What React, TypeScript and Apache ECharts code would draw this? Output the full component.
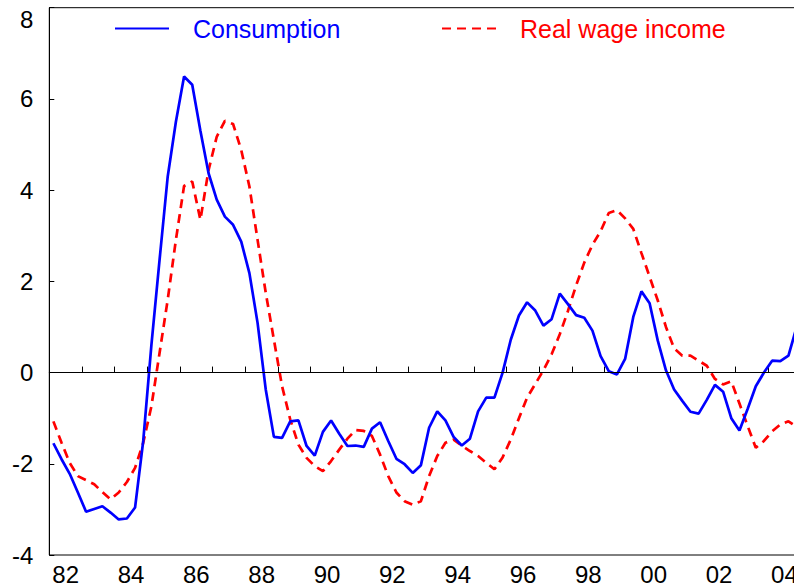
import React, { useEffect, useRef } from "react";
import * as echarts from "echarts";

const yearLabels = ["82","83","84","85","86","87","88","89","90","91","92","93","94","95","96","97","98","99","00","01","02","03","04"];
const firstYear = 1982;

const consumption = [
  -1.55, -1.90, -2.22, -2.63, -3.05, -2.99, -2.93, -3.07, -3.22, -3.20,
  -2.96, -1.50, 0.60, 2.47, 4.30, 5.50, 6.49, 6.31, 5.30, 4.37,
  3.79, 3.42, 3.24, 2.87, 2.18, 1.09, -0.37, -1.41, -1.43, -1.07,
  -1.05, -1.61, -1.82, -1.30, -1.05, -1.34, -1.61, -1.60, -1.63, -1.23,
  -1.09, -1.50, -1.89, -2.01, -2.20, -2.03, -1.21, -0.85, -1.05, -1.41,
  -1.60, -1.45, -0.85, -0.55, -0.55, 0.00, 0.72, 1.25, 1.54, 1.36,
  1.03, 1.17, 1.73, 1.50, 1.26, 1.20, 0.92, 0.36, 0.03, -0.04,
  0.30, 1.22, 1.78, 1.52, 0.70, 0.05, -0.37, -0.62, -0.86, -0.90,
  -0.60, -0.27, -0.42, -1.00, -1.27, -0.80, -0.30, 0.00, 0.26, 0.25,
  0.37, 1.00
];

const realWageIncome = [
  -1.07, -1.54, -1.98, -2.27, -2.36, -2.45, -2.62, -2.78, -2.63, -2.40,
  -2.09, -1.54, -0.74, 0.43, 1.60, 2.91, 4.09, 4.19, 3.35, 4.44,
  5.17, 5.52, 5.45, 4.88, 4.08, 2.91, 1.75, 0.72, -0.30, -1.03,
  -1.58, -1.87, -2.05, -2.16, -1.94, -1.69, -1.45, -1.26, -1.28, -1.39,
  -1.80, -2.27, -2.63, -2.82, -2.90, -2.82, -2.27, -1.83, -1.54, -1.47,
  -1.60, -1.72, -1.83, -1.98, -2.12, -1.86, -1.47, -1.00, -0.55, -0.25,
  0.05, 0.40, 0.84, 1.35, 1.91, 2.41, 2.80, 3.10, 3.50, 3.56,
  3.38, 3.15, 2.62, 2.10, 1.58, 1.00, 0.53, 0.37, 0.37, 0.26,
  0.15, -0.14, -0.26, -0.19, -0.68, -1.17, -1.65, -1.50, -1.29, -1.14,
  -1.07, -1.19
];

const FONT = "'Liberation Sans', Arial, Helvetica, sans-serif";

const toPoints = (vals: number[]) =>
  vals.map((v, i) => [firstYear + 0.125 + i * 0.25, v]);

export default function App() {
  const ref = useRef<HTMLDivElement>(null);
  useEffect(() => {
    if (!ref.current) return;
    const chart = echarts.init(ref.current, null, { renderer: "svg" });
    const yearWidth = 32.67;
    chart.setOption({
      animation: false,
      backgroundColor: "#fff",
      textStyle: { fontFamily: FONT },
      grid: {
        left: 49.3,
        top: 7.7,
        width: yearWidth * yearLabels.length,
        height: 548,
        show: true,
        borderColor: "#000",
        borderWidth: 1,
        backgroundColor: "transparent",
      },
      legend: {
        left: 114,
        top: 16,
        padding: 0,
        itemWidth: 54,
        itemHeight: 26,
        itemGap: 100.7,
        itemStyle: { opacity: 0 },
        textStyle: { fontSize: 25, fontFamily: FONT, padding: [0, 0, 0, 19] },
        data: [
          { name: "Consumption", textStyle: { color: "#0000ff" } },
          { name: "Real wage income", textStyle: { color: "#ff0000" } },
        ],
      },
      xAxis: [
        {
          type: "category",
          data: yearLabels,
          boundaryGap: true,
          axisLine: { show: true, lineStyle: { color: "#000", width: 1 } },
          axisTick: { show: true, inside: true, length: 6, interval: 0, lineStyle: { color: "#000" } },
          axisLabel: { interval: 1, color: "#000", fontSize: 24, fontFamily: FONT, margin: 7 },
          splitLine: { show: false },
        },
        {
          type: "value",
          min: firstYear,
          max: firstYear + yearLabels.length,
          show: false,
          splitLine: { show: false },
        },
      ],
      yAxis: {
        type: "value",
        min: -4,
        max: 8,
        interval: 2,
        axisLine: { show: true, lineStyle: { color: "#000", width: 1 } },
        axisTick: { show: true, inside: true, length: 5, lineStyle: { color: "#000" } },
        axisLabel: {
          color: "#000",
          fontSize: 24,
          fontFamily: FONT,
          margin: 16,
          verticalAlignMaxLabel: "top",
        },
        splitLine: { show: false },
      },
      series: [
        {
          name: "Consumption",
          type: "line",
          xAxisIndex: 1,
          data: toPoints(consumption),
          symbol: "none",
          showSymbol: false,
          color: "#0000ff",
          lineStyle: { color: "#0000ff", width: 2.7, type: "solid" },
          markLine: {
            silent: true,
            symbol: "none",
            label: { show: false },
            lineStyle: { color: "#000", width: 1, type: "solid" },
            data: [{ yAxis: 0 }],
          },
          z: 3,
        },
        {
          name: "Real wage income",
          type: "line",
          xAxisIndex: 1,
          data: toPoints(realWageIncome),
          symbol: "none",
          showSymbol: false,
          color: "#ff0000",
          lineStyle: { color: "#ff0000", width: 2.7, type: [9, 6] },
          z: 2,
        },
      ],
    });
    return () => chart.dispose();
  }, []);
  return (
    <div style={{ position: "absolute", left: 0, top: 0, width: 794, height: 586, overflow: "hidden", background: "#fff" }}>
      <div ref={ref} style={{ width: 802, height: 586 }} />
    </div>
  );
}
